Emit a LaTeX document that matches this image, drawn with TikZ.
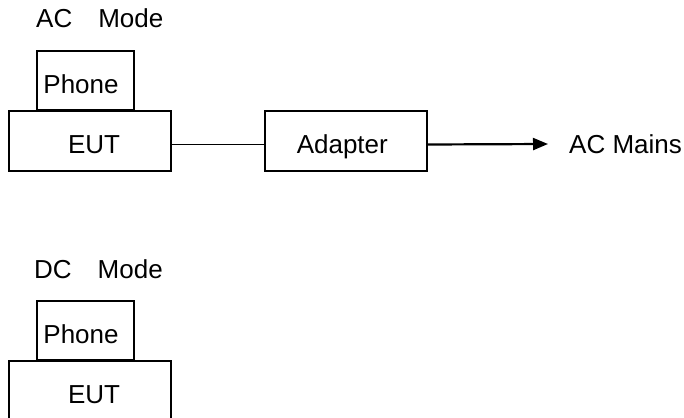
\documentclass[tikz,border=0pt]{standalone}
\usepackage{fontspec}
\setmainfont{Liberation Sans}
\usetikzlibrary{arrows.meta}
\usetikzlibrary{positioning}

\begin{document}
\begin{tikzpicture}[x=1pt, y=-1pt,
box/.style={draw, line width=1.8pt, inner sep=0pt, text height=25pt, text depth=0pt},
eutbox/.style={box, minimum width=162pt, minimum height=60pt},
phonebox/.style={box, minimum width=97pt, minimum height=59pt},
lbl/.style={inner sep=0pt, anchor=base west},
wire/.style={line width=1.4pt},
feed/.style={line width=2.2pt, -{Triangle[length=15pt, width=12pt]}},
font=\fontsize{26}{31}\selectfont]

\clip (0,0) rectangle (684,417);

% AC MODE
\node[lbl] (actitle) at (36,28) {AC\hspace{26pt}Mode};
\node[eutbox] (aceut) at (90,141) {\hspace*{8pt}EUT};
\node[phonebox] (acphone) at (85.5,80.5) {Phone\hspace*{9pt}};
\node[eutbox, right=92pt of aceut] (adapter) {Adapter\hspace*{7pt}};
\node[anchor=west, inner xsep=21pt, inner ysep=0pt] (mains) at (548,144) {AC Mains};

\draw[wire] ([yshift=-3.5pt]aceut.east) -- ([yshift=-3.5pt]adapter.west);
\draw[feed] ([yshift=-3.5pt]adapter.east) -- (mains.west);

% DC MODE
\node[lbl] (dctitle) at (34,278) {DC\hspace{26pt}Mode};
\node[eutbox] (dceut) at (90,391) {\hspace*{8pt}EUT};
\node[phonebox] (dcphone) at (85.5,330.5) {Phone\hspace*{9pt}};

\end{tikzpicture}
\end{document}
